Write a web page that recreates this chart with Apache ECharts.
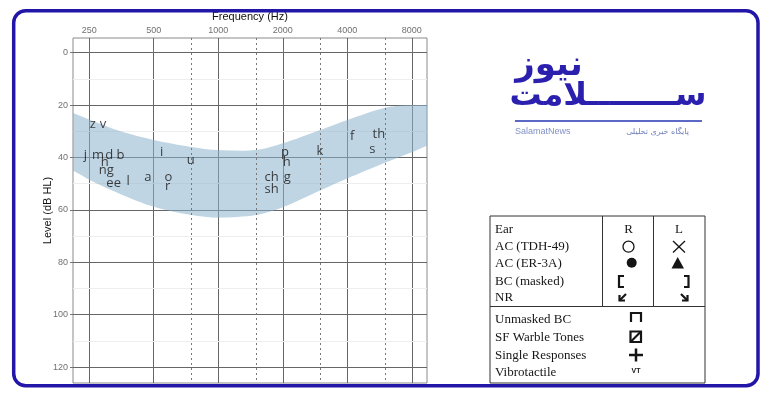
<!DOCTYPE html>
<html>
<head>
<meta charset="utf-8">
<script src="https://cdn.jsdelivr.net/npm/echarts@6/dist/echarts.min.js"></script>
<style>
  html, body { margin: 0; padding: 0; background: #fff; }
  #audiogram { width: 769px; height: 398px; }
</style>
</head>
<body>
<div id="audiogram"></div>
<script>
// frequency axis (Hz) and level axis (dB HL)
const freqTicks = [250, 500, 1000, 2000, 4000, 8000];
const freqHalfOctaves = [750, 1500, 3000, 6000];
const levelTicks = [0, 20, 40, 60, 80, 100, 120];
const levelMinor = [10, 30, 50, 70, 90, 110];

// speech banana outline
const bananaHz = [190, 210, 250, 350, 500, 750, 1000, 1500, 2000, 3000, 4000, 6000, 8000, 9420, 10500];
const bananaTop = [22, 23, 25.5, 30, 33.3, 36, 37.2, 37.2, 34.6, 29.5, 25.7, 21, 20, 20, 20];
const bananaBottom = [43.5, 45, 48.5, 54, 58.8, 62, 63, 62, 59, 52.5, 48, 42, 38, 35.5, 34];

// speech sounds
const phonemes = ['z', 'v', 'j', 'm', 'd', 'b', 'n', 'ng', 'ee', 'l', 'a', 'o', 'r', 'i', 'u',
  'p', 'h', 'g', 'ch', 'sh', 'k', 'f', 'th', 's'];
const phonemeHz = [260, 290, 240, 275, 310, 350, 295, 300, 325, 380, 470, 585, 580, 545, 745,
  2050, 2085, 2100, 1775, 1775, 2980, 4220, 5620, 5230];
const phonemeDb = [27.5, 27.5, 39, 39, 39, 39, 42, 45, 50, 49, 47.5, 47.5, 51, 38, 41,
  38, 42, 47.5, 47.5, 52, 37.5, 32, 31, 37];

// symbol key (right side)
const keyRows = ['Ear', 'AC (TDH-49)', 'AC (ER-3A)', 'BC (masked)', 'NR'];
const keyRowsLower = ['Unmasked BC', 'SF Warble Tones', 'Single Responses', 'Vibrotactile'];

const chart = echarts.init(document.getElementById('audiogram'));

const serif = '13px "Liberation Serif"';
const ink = '#151515';

function keyGraphics() {
  const g = [];
  // frame
  g.push({ type: 'rect', shape: { x: 490, y: 216, width: 215, height: 167 },
    style: { fill: '#fff', stroke: '#333', lineWidth: 1 } });
  g.push({ type: 'line', shape: { x1: 490, y1: 306.5, x2: 705, y2: 306.5 }, style: { stroke: '#333', lineWidth: 1 } });
  g.push({ type: 'line', shape: { x1: 602.5, y1: 216, x2: 602.5, y2: 306.5 }, style: { stroke: '#333', lineWidth: 1 } });
  g.push({ type: 'line', shape: { x1: 653.5, y1: 216, x2: 653.5, y2: 306.5 }, style: { stroke: '#333', lineWidth: 1 } });

  const rowY = [230, 246.5, 263.5, 281.5, 298];
  keyRows.forEach((t, i) => {
    g.push({ type: 'text', style: { text: t, x: 495, y: rowY[i], font: serif, fill: ink, verticalAlign: 'middle' } });
  });
  const rowY2 = [320, 338, 355.5, 372.5];
  keyRowsLower.forEach((t, i) => {
    g.push({ type: 'text', style: { text: t, x: 495, y: rowY2[i], font: serif, fill: ink, verticalAlign: 'middle' } });
  });

  g.push({ type: 'text', style: { text: 'R', x: 628.5, y: 230, font: serif, fill: ink, align: 'center', verticalAlign: 'middle' } });
  g.push({ type: 'text', style: { text: 'L', x: 679, y: 230, font: serif, fill: ink, align: 'center', verticalAlign: 'middle' } });

  const sym = { stroke: ink, lineWidth: 1.3, fill: 'none' };
  const bold = { stroke: ink, lineWidth: 2.2, fill: 'none' };
  g.push({ type: 'circle', shape: { cx: 628.5, cy: 246.7, r: 5.5 }, style: sym });
  g.push({ type: 'line', shape: { x1: 673, y1: 241, x2: 685, y2: 252.5 }, style: sym });
  g.push({ type: 'line', shape: { x1: 673, y1: 252.5, x2: 685, y2: 241 }, style: sym });
  g.push({ type: 'circle', shape: { cx: 631.7, cy: 262.7, r: 5 }, style: { fill: ink } });
  g.push({ type: 'polygon', shape: { points: [[677.7, 257], [671.5, 268.5], [684, 268.5]] }, style: { fill: ink } });
  g.push({ type: 'polyline', shape: { points: [[624, 276], [619, 276], [619, 287], [624, 287]] }, style: bold });
  g.push({ type: 'polyline', shape: { points: [[684, 276], [688.5, 276], [688.5, 287], [684, 287]] }, style: bold });
  // no-response arrows
  g.push({ type: 'line', shape: { x1: 626, y1: 294, x2: 619.5, y2: 300.5 }, style: bold });
  g.push({ type: 'polyline', shape: { points: [[619.5, 295], [619.5, 300.5], [625, 300.5]] }, style: bold });
  g.push({ type: 'line', shape: { x1: 681, y1: 294, x2: 687.5, y2: 300.5 }, style: bold });
  g.push({ type: 'polyline', shape: { points: [[687.5, 295], [687.5, 300.5], [682, 300.5]] }, style: bold });
  // lower panel symbols
  g.push({ type: 'polyline', shape: { points: [[631, 322], [631, 313], [641, 313], [641, 322]] }, style: bold });
  g.push({ type: 'rect', shape: { x: 630.5, y: 331.5, width: 10.5, height: 10.5 }, style: bold });
  g.push({ type: 'line', shape: { x1: 631, y1: 341.5, x2: 640.5, y2: 332 }, style: bold });
  g.push({ type: 'line', shape: { x1: 629, y1: 355, x2: 643, y2: 355 }, style: { stroke: ink, lineWidth: 2.5 } });
  g.push({ type: 'line', shape: { x1: 636, y1: 348.5, x2: 636, y2: 361.5 }, style: { stroke: ink, lineWidth: 2.5 } });
  g.push({ type: 'text', style: { text: 'VT', x: 636, y: 371, font: 'bold 7px "Liberation Sans"', fill: ink, align: 'center', verticalAlign: 'middle' } });
  return g;
}

function logoGraphics() {
  const blue = '#2b1fae';
  return [
    { type: 'text', style: { text: 'نیوز', x: 549, y: 66, font: 'bold 34px "DejaVu Sans"', fill: blue, align: 'center', verticalAlign: 'middle' } },
    { type: 'text', style: { text: 'ســــــــلامت', x: 608, y: 97, font: 'bold 32px "DejaVu Sans"', fill: blue, align: 'center', verticalAlign: 'middle' } },
    { type: 'line', shape: { x1: 515, y1: 121, x2: 702, y2: 121 }, style: { stroke: '#5b68c6', lineWidth: 2 } },
    { type: 'text', style: { text: 'SalamatNews', x: 515, y: 131.5, font: '9px "Liberation Sans"', fill: '#8090c6', verticalAlign: 'middle' } },
    { type: 'text', style: { text: 'پایگاه خبری تحلیلی', x: 689, y: 131.5, font: '8px "DejaVu Sans"', fill: '#7080bb', align: 'right', verticalAlign: 'middle' } }
  ];
}

const option = {
  backgroundColor: '#fff',
  animation: false,
  grid: {
    left: 73, top: 38, width: 354, height: 345,
    show: true, borderColor: '#8a8a8a', borderWidth: 1, backgroundColor: '#fff'
  },
  xAxis: {
    type: 'log',
    position: 'top',
    min: 210,
    max: 9420,
    name: 'Frequency (Hz)',
    nameLocation: 'middle',
    nameGap: 21,
    nameMoveOverlap: false,
    nameTextStyle: { color: '#111', fontSize: 11, fontFamily: 'Liberation Sans', verticalAlign: 'middle' },
    axisLine: { show: false },
    axisTick: { show: true, length: 3, lineStyle: { color: '#777' }, customValues: freqTicks },
    axisLabel: {
      color: '#707070', fontSize: 9, fontFamily: 'Liberation Sans', margin: 3,
      customValues: freqTicks,
      formatter: v => String(Math.round(v))
    },
    splitLine: { show: true, lineStyle: { color: '#666', width: 1 } },
    minorSplitLine: { show: false }
  },
  yAxis: {
    type: 'value',
    inverse: true,
    min: -5.6,
    max: 126.1,
    name: 'Level (dB HL)',
    nameLocation: 'middle',
    nameGap: 25,
    nameMoveOverlap: false,
    nameTextStyle: { color: '#111', fontSize: 11, fontFamily: 'Liberation Sans', verticalAlign: 'middle' },
    axisLine: { show: false },
    axisTick: { show: true, length: 3, lineStyle: { color: '#777' }, customValues: levelTicks },
    axisLabel: { color: '#707070', fontSize: 9, fontFamily: 'Liberation Sans', margin: 5, customValues: levelTicks },
    splitLine: { show: true, lineStyle: { color: '#666', width: 1 } }
  },
  graphic: [
    { type: 'rect', z: 100, shape: { x: 13.7, y: 10.8, width: 744.3, height: 375, r: 12 },
      style: { fill: 'none', stroke: '#2216a8', lineWidth: 3.5 } }
  ].concat(keyGraphics(), logoGraphics()),
  series: [
    {
      // faint 10 dB lines, kept under the banana
      type: 'line',
      data: [],
      z: 1,
      markLine: {
        z: 1,
        silent: true, symbol: 'none', label: { show: false },
        lineStyle: { color: '#eeeeee', type: 'solid', width: 1 },
        data: levelMinor.map(v => ({ yAxis: v }))
      }
    },
    {
      type: 'custom',
      clip: true,
      z: 2,
      data: [[bananaHz[0], bananaTop[0]]],
      renderItem: function (params, api) {
        const pts = [];
        for (let i = 0; i < bananaHz.length; i++) pts.push(api.coord([bananaHz[i], bananaTop[i]]));
        for (let i = bananaHz.length - 1; i >= 0; i--) pts.push(api.coord([bananaHz[i], bananaBottom[i]]));
        return {
          type: 'polygon',
          shape: { points: pts, smooth: 0.3 },
          style: { fill: 'rgba(140,178,204,0.55)' }
        };
      }
    },
    {
      type: 'scatter',
      z: 4,
      symbolSize: 0,
      data: phonemes.map((p, i) => [phonemeHz[i], phonemeDb[i], p]),
      label: {
        show: true,
        position: 'inside',
        formatter: p => p.data[2],
        color: '#111',
        fontSize: 13,
        fontFamily: 'Open Sans'
      },
      markLine: {
        z: 3,
        silent: true, symbol: 'none', label: { show: false },
        lineStyle: { color: '#777', type: [2, 3], width: 1 },
        data: freqHalfOctaves.map(v => ({ xAxis: v }))
      }
    }
  ]
};

chart.setOption(option);

window.addEventListener('resize', () => {
  chart.resize();
});
</script>
</body>
</html>
